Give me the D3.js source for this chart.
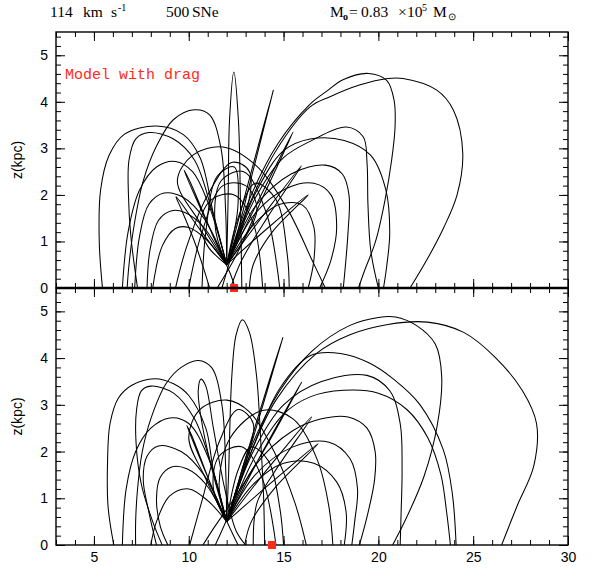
<!DOCTYPE html>
<html>
<head>
<meta charset="utf-8">
<script src="https://cdn.jsdelivr.net/npm/d3@7"></script>
<style>
  body { margin: 0; background: #fff; }
  svg text { fill: #000; }
</style>
</head>
<body>
<svg id="chart" width="597" height="568"></svg>
<script>
// Cloud trajectories in the R–z plane, launched from a superbubble at R = 12 kpc, z = 0.5 kpc.
const launch = [12.0, 0.5];

const xMajor = [5, 10, 15, 20, 25, 30];
const xMinor = d3.range(3, 31, 1);
const zMajor = [0, 1, 2, 3, 4, 5];
const zMinor = d3.range(0, 5.51, 0.2);

// landing radius of the source region marked on each panel
const markerDrag = 12.39;
const markerNoDrag = 14.39;

// Model with drag: trajectories as [R (kpc), z (kpc)] after launch
const dragPaths = [
  [[11.3,1.6],[10.6,2.8],[9.7,3.3],[8.3,3.48],[6.6,3.3],[5.8,2.85],[5.35,2.1],[5.28,1.0],[5.45,0]],
  [[11.95,1.6],[11.7,3.0],[11.1,3.72],[10.3,3.83],[9.2,3.62],[8.3,3.05],[7.6,2.3],[7.1,1.3],[6.85,0.5],[6.75,0]],
  [[11.2,1.7],[10.3,2.75],[9.2,3.2],[7.9,3.34],[7.2,3.2],[6.85,2.75],[6.82,2.0],[6.95,1.1],[7.3,0]],
  [[11.0,1.85],[10.2,2.5],[9.3,2.72],[8.3,2.6],[7.4,2.1],[6.8,1.2],[6.5,0]],
  [[10.8,1.5],[9.7,1.95],[8.7,2.04],[7.9,1.8],[7.4,1.1],[7.15,0]],
  [[10.8,1.3],[9.8,1.62],[9.1,1.66],[8.4,1.45],[7.95,0.8],[7.8,0]],
  [[10.9,1.05],[10.0,1.3],[9.3,1.28],[8.6,0.9],[8.1,0]],
  [[10.8,1.55],[9.75,2.53],[10.05,2.3],[11.3,1.1],[12.2,0.3],[12.45,0]],
  [[10.6,1.25],[9.33,1.96],[9.6,1.7],[10.3,1.0],[10.8,0.4],[11.1,0]],
  [[12.08,2.0],[12.15,3.6],[12.38,4.64],[12.62,3.6],[12.72,2.0],[12.8,0]],
  [[13.2,2.35],[14.46,4.25],[13.35,2.45],[12.35,0.85],[11.75,0]],
  [[13.7,1.9],[15.5,3.35],[13.85,1.9],[12.5,0.7],[11.5,0]],
  [[14.0,1.6],[15.95,2.63],[14.2,1.55],[12.8,0.6],[12.2,0]],
  [[14.2,1.3],[16.3,2.0],[14.4,1.2],[13.4,0.5],[13.2,0]],
  [[10.6,1.4],[9.4,2.3],[10.2,2.85],[11.8,3.03],[13.5,2.65],[15.2,1.7],[16.5,0.6],[17.2,0]],
  [[13.2,1.8],[14.6,2.95],[16.4,3.89],[17.45,4.11],[19.0,4.36],[20.5,4.5],[21.3,4.5],[23.08,4.25],[23.96,3.82],[24.45,2.9],[24.15,2.0],[23.45,1.3],[22.55,0.6],[21.67,0]],
  [[13.3,2.0],[14.7,3.1],[16.4,3.95],[17.28,4.23],[18.16,4.48],[19.48,4.61],[20.44,4.46],[20.83,4.03],[20.88,3.46],[20.7,2.75],[20.35,1.89],[19.85,1.0],[19.25,0.35],[18.95,0]],
  [[13.6,2.0],[15.0,2.8],[16.4,3.15],[18.3,3.46],[19.2,3.25],[19.4,2.7],[19.45,1.8],[19.6,0.8],[20.0,0]],
  [[13.6,2.1],[15.0,2.95],[16.4,3.2],[18.2,3.17],[19.6,2.85],[20.4,2.1],[20.6,1.2],[20.45,0.5],[20.27,0]],
  [[13.5,1.75],[15.4,2.45],[17.2,2.64],[18.1,2.45],[18.45,2.0],[18.4,1.2],[18.15,0]],
  [[13.5,1.6],[15.2,2.15],[16.6,2.25],[17.5,2.0],[17.8,1.3],[17.5,0.6],[16.9,0]],
  [[13.4,1.35],[14.8,1.8],[16.0,1.78],[16.6,1.3],[16.6,0.6],[16.3,0]],
  [[11.0,0.9],[10.6,1.4],[11.2,1.9],[12.4,2.0],[13.4,1.4],[13.9,0]],
  [[13.0,1.1],[13.6,1.7],[13.0,2.2],[11.8,2.2],[10.7,1.2],[10.0,0]],
  [[12.9,1.4],[13.2,2.5],[12.3,2.7],[11.0,2.0],[9.9,0.9],[9.3,0]],
  [[11.4,1.3],[11.7,2.3],[12.9,2.5],[14.1,1.6],[14.8,0]],
  [[12.6,1.5],[13.5,2.25],[14.6,1.9],[15.2,0.7],[15.3,0]],
  [[12.6,1.8],[12.4,2.6],[11.5,2.4],[10.9,1.2],[10.7,0]]
];

// Model without drag
const noDragPaths = [
  [[11.3,1.6],[10.9,2.5],[10.0,3.2],[9.2,3.45],[8.2,3.56],[7.0,3.42],[6.3,3.15],[5.85,2.6],[5.72,1.8],[5.75,0.8],[6.05,0]],
  [[11.2,1.7],[10.3,2.7],[9.2,3.25],[8.0,3.4],[7.5,3.3],[7.25,2.9],[7.22,2.2],[7.5,1.3],[8.1,0.5],[8.6,0]],
  [[11.95,1.6],[11.75,3.0],[11.2,3.8],[10.5,3.95],[9.6,3.8],[8.8,3.45],[8.0,2.7],[7.55,2.0],[7.3,1.2],[7.2,0.5],[7.2,0]],
  [[11.0,1.9],[10.0,2.6],[9.0,2.72],[8.0,2.5],[7.2,2.0],[6.7,1.2],[6.5,0]],
  [[10.8,1.5],[9.6,2.0],[8.4,2.12],[7.8,1.9],[7.6,1.4],[7.9,0.7],[8.3,0]],
  [[10.9,1.3],[9.9,1.63],[9.1,1.67],[8.5,1.45],[8.3,1.0],[8.5,0.4],[8.9,0]],
  [[11.0,0.95],[10.0,1.2],[9.0,1.05],[8.3,0.5],[8.0,0]],
  [[10.9,1.55],[9.89,2.56],[10.15,2.35],[11.3,1.15],[12.3,0.25],[12.6,0]],
  [[11.3,1.5],[10.7,2.6],[10.5,3.3],[10.65,3.55],[10.9,3.4],[11.3,2.5],[11.9,1.2],[12.5,0.3],[13.0,0]],
  [[12.1,1.5],[12.27,3.6],[12.5,4.5],[12.83,4.82],[13.2,4.55],[13.58,3.6],[13.8,2.2],[13.95,1.0],[14.0,0]],
  [[13.4,2.4],[14.96,4.44],[13.55,2.5],[12.3,0.85],[11.4,0]],
  [[13.9,2.0],[15.96,3.49],[14.0,2.05],[12.4,1.0],[11.3,0.35],[10.75,0]],
  [[14.2,1.65],[16.48,2.74],[14.5,1.55],[13.6,0.9],[13.4,0]],
  [[14.4,1.35],[16.83,2.17],[14.6,1.25],[13.3,0.5],[12.95,0]],
  [[13.2,1.9],[14.6,3.1],[16.74,4.1],[18.5,4.5],[20.5,4.72],[22.6,4.77],[24.5,4.55],[26.2,4.0],[27.6,3.3],[28.34,2.6],[28.2,1.7],[27.3,0.82],[26.5,0]],
  [[13.3,2.1],[14.8,3.3],[16.5,4.15],[18.5,4.7],[20.0,4.87],[20.9,4.88],[22.0,4.7],[23.0,4.3],[23.34,3.6],[23.1,2.55],[22.4,1.46],[21.5,0.6],[20.75,0]],
  [[13.4,2.1],[14.8,3.35],[16.4,4.05],[18.0,4.1],[19.5,3.9],[20.8,3.55],[22.2,3.0],[23.43,2.03],[23.9,1.1],[24.1,0]],
  [[13.5,1.9],[15.0,2.8],[16.4,3.17],[18.16,3.31],[20.0,3.25],[21.5,2.9],[22.6,2.3],[23.3,1.5],[23.6,0.7],[23.8,0]],
  [[13.4,2.0],[15.0,3.0],[17.0,3.5],[19.4,3.63],[20.6,3.3],[21.15,2.6],[21.25,1.6],[21.2,0.7],[21.15,0]],
  [[13.5,1.7],[15.5,2.45],[17.0,2.7],[18.4,2.74],[19.4,2.5],[19.83,2.0],[19.8,1.4],[19.4,0.6],[19.0,0]],
  [[13.5,1.5],[15.5,2.1],[17.4,2.2],[18.5,1.85],[18.9,1.2],[18.75,0.5],[18.6,0]],
  [[13.4,1.3],[15.0,1.75],[16.6,1.75],[17.8,1.35],[18.3,0.7],[18.2,0]],
  [[11.6,1.3],[12.2,2.3],[13.9,2.88],[15.5,2.7],[16.8,1.8],[17.4,0.8],[17.6,0]],
  [[10.8,1.5],[10.0,2.3],[10.6,2.9],[12.0,3.1],[13.2,2.85],[14.5,2.0],[15.6,0.9],[16.2,0]],
  [[12.6,1.6],[13.3,2.1],[14.2,1.8],[14.8,0.8],[15.0,0]],
  [[11.3,1.2],[11.6,1.9],[12.8,2.1],[13.9,1.4],[14.6,0]],
  [[12.8,1.6],[13.4,2.6],[12.6,2.9],[11.6,2.2],[10.7,0.95],[10.05,0]]
];

const svg = d3.select("#chart");
const left = 56, right = 568;
const x = d3.scaleLinear().domain([3, 30]).range([left, right]);

const tickFont = "'Liberation Sans', Arial, sans-serif";
const serif = "'Liberation Serif', 'Times New Roman', serif";

function drawPanel(top, bottom, paths, marker, id, withXLabels) {
  const y = d3.scaleLinear().domain([0, 5.5]).range([bottom, top]);
  const g = svg.append("g");

  g.append("clipPath").attr("id", id)
    .append("rect").attr("x", left).attr("y", top)
    .attr("width", right - left).attr("height", bottom - top);

  const line = d3.line()
    .x(d => x(d[0])).y(d => y(d[1]))
    .curve(d3.curveCatmullRom.alpha(0.5));

  g.append("g").attr("clip-path", `url(#${id})`)
    .selectAll("path").data(paths).join("path")
    .attr("d", p => line([launch, ...p]))
    .attr("fill", "none").attr("stroke", "#000")
    .attr("stroke-width", 1.05);

  const axes = [
    { gen: d3.axisBottom, scale: x, pos: `translate(0,${bottom})`, major: xMajor, minor: xMinor, labels: withXLabels },
    { gen: d3.axisTop, scale: x, pos: `translate(0,${top})`, major: xMajor, minor: xMinor, labels: false },
    { gen: d3.axisLeft, scale: y, pos: `translate(${left},0)`, major: zMajor, minor: zMinor, labels: true },
    { gen: d3.axisRight, scale: y, pos: `translate(${right},0)`, major: zMajor, minor: zMinor, labels: false }
  ];
  axes.forEach(a => {
    const minor = g.append("g").attr("transform", a.pos)
      .call(a.gen(a.scale).tickValues(a.minor).tickSize(-5).tickFormat(""));
    const major = g.append("g").attr("transform", a.pos)
      .call(a.gen(a.scale).tickValues(a.major).tickSize(-9).tickPadding(a.gen === d3.axisLeft ? 8 : 7)
        .tickFormat(a.labels ? d3.format("d") : ""));
    [minor, major].forEach(s => {
      s.select(".domain").remove();
      s.selectAll(".tick line").attr("stroke", "#000").attr("stroke-width", 1);
    });
    major.selectAll(".tick text")
      .attr("font-family", tickFont).attr("font-size", 14).attr("fill", "#000");
  });

  g.append("rect").attr("x", left).attr("y", top)
    .attr("width", right - left).attr("height", bottom - top)
    .attr("fill", "none").attr("stroke", "#000").attr("stroke-width", 1.4);

  g.append("rect")
    .attr("x", x(marker) - 4).attr("y", y(0) - 4)
    .attr("width", 8).attr("height", 8)
    .attr("fill", "#ff2a1a");

  g.append("text")
    .attr("transform", `translate(22,${(top + bottom) / 2}) rotate(-90)`)
    .attr("text-anchor", "middle")
    .attr("font-family", tickFont).attr("font-size", 14)
    .text("z(kpc)");

  return y;
}

drawPanel(32, 288, dragPaths, markerDrag, "clipDrag", false);
drawPanel(288, 545, noDragPaths, markerNoDrag, "clipNoDrag", true);

// shared border between the panels
svg.append("line").attr("x1", left).attr("x2", right)
  .attr("y1", 288).attr("y2", 288)
  .attr("stroke", "#000").attr("stroke-width", 2.4);

svg.append("text")
  .attr("x", 65).attr("y", 79)
  .attr("font-family", "'Liberation Mono', 'Courier New', monospace")
  .attr("font-size", 15).attr("fill", "#ff2a1a")
  .style("fill", "#ff2a1a")
  .text("Model with drag");

// header line
const header = svg.append("g")
  .attr("font-family", serif);
const pieces = [
  { t: "114", x: 50, y: 17 },
  { t: "km", x: 83, y: 17 },
  { t: "s", x: 111, y: 17 },
  { t: "-1", x: 118, y: 11, s: 10 },
  { t: "500", x: 166, y: 17 },
  { t: "SNe", x: 192, y: 17 },
  { t: "M", x: 330, y: 17 },
  { t: "o", x: 343, y: 20, s: 10, w: "bold" },
  { t: "=", x: 349, y: 17 },
  { t: "0.83", x: 361, y: 17 },
  { t: "\u00d7", x: 398, y: 17 },
  { t: "10", x: 407, y: 17 },
  { t: "5", x: 422, y: 11, s: 10 },
  { t: "M", x: 433, y: 17 },
  { t: "\u2299", x: 448, y: 20, s: 10 }
];
header.selectAll("text").data(pieces).join("text")
  .attr("x", d => d.x).attr("y", d => d.y)
  .attr("font-size", d => d.s || 15.5)
  .attr("font-weight", d => d.w || "normal")
  .text(d => d.t);
</script>
</body>
</html>
